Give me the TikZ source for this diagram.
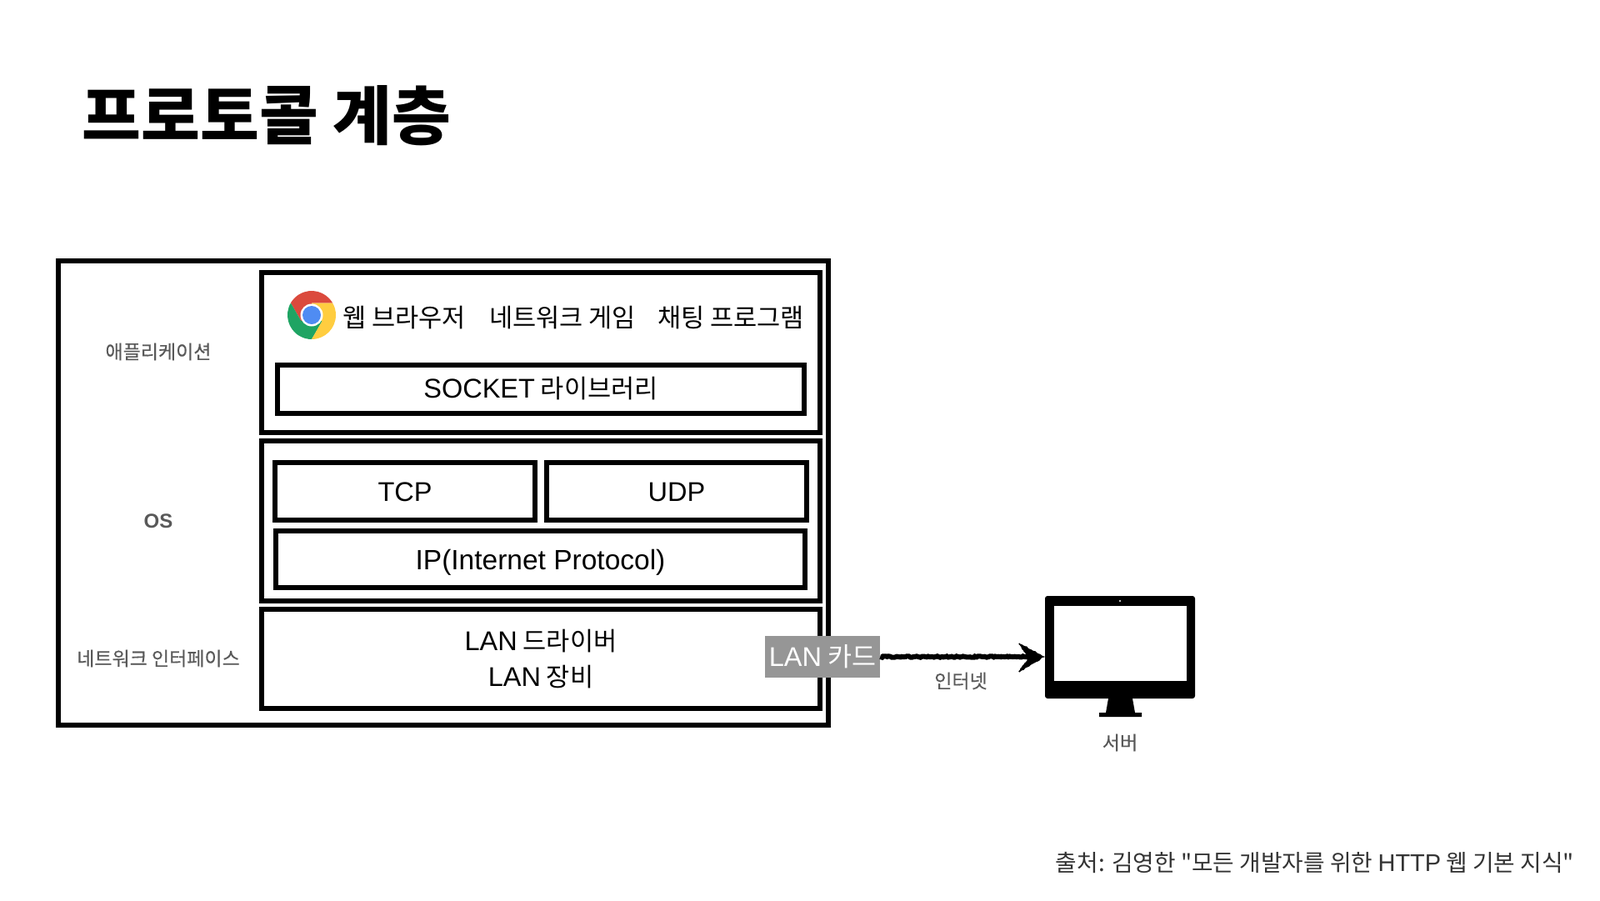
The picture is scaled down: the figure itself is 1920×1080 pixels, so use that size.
\documentclass[tikz,border=0pt]{standalone}
\usepackage{fontspec}
\setmainfont{Noto Sans CJK KR}
\newfontfamily\krn{Noto Sans CJK KR}
\newfontfamily\krm[FakeBold=0.35]{Noto Sans CJK KR}
\newfontfamily\lat{Liberation Sans}
\usetikzlibrary{arrows.meta,decorations.pathmorphing,calc}
\definecolor{labelgray}{HTML}{595959}
\definecolor{cardgray}{HTML}{969696}
\definecolor{chred}{HTML}{DB4A3D}
\definecolor{chgreen}{HTML}{1FA463}
\definecolor{chyellow}{HTML}{FFCD40}
\definecolor{chblue}{HTML}{4F8CF3}
\newcommand{\fs}[1]{\fontsize{#1}{#1}\selectfont}
\newcommand{\la}[1]{{\fs{32.5}\lat #1}}
\newcommand{\low}[1]{\raisebox{-12pt}[0pt][0pt]{#1}}
\tikzset{
  layer/.style={draw=black,line width=6pt,inner sep=0pt,fill=none,align=center,font=\fs{30.6},text=black},
  side/.style={inner sep=0pt,text=labelgray,font=\krm\fs{23},align=center},
  plain/.style={inner sep=0pt,text=black,font=\fs{30.6}},
  rough/.style={decorate,decoration={random steps,segment length=2pt,amplitude=0.7pt}},
}
\begin{document}
\begin{tikzpicture}[x=1pt,y=-1pt]
\useasboundingbox (0,0) rectangle (1920,1080);
\fill[white] (0,0) rectangle (1920,1080);
\node[inner sep=0pt,font=\bfseries\fs{77}] (title) at (320,139) {프로토콜 계층};
\node[layer,line width=6.5pt,minimum width=924pt,minimum height=557pt] (outer) at (532,591.5) {};
\node[layer,minimum width=670pt,minimum height=192pt] (app) at (649,423) {};
\node[layer,minimum width=632pt,minimum height=58pt] (socket) at (649,466.5) {\la{SOCKET} 라이브러리};
\node[layer,minimum width=670pt,minimum height=192pt] (os) at (649,625) {};
\node[layer,minimum width=312pt,minimum height=69pt] (tcp) at (486,589.5) {\low{\la{TCP}}};
\node[layer,minimum width=312pt,minimum height=69pt] (udp) at (812,589.5) {\low{\la{UDP}}};
\node[layer,minimum width=635pt,minimum height=68pt] (ip) at (648.5,671) {\low{{\fs{33.5}\lat IP(Internet Protocol)}}};
\node[layer,minimum width=670pt,minimum height=119pt] (lan) at (649,790.5) {\la{LAN} 드라이버\\[12pt]\la{LAN} 장비};
\node[side] (lapp) at (190,422) {애플리케이션};
\node[side] (los) at (190,625) {\lat\bfseries\fs{24}OS};
\node[side] (lnet) at (190,790) {네트워크 인터페이스};
\node[plain] (web) at (485,381) {웹 브라우저};
\node[plain] (game) at (675,381) {네트워크 게임};
\node[plain] (chat) at (877,381) {채팅 프로그램};
% chrome icon
\begin{scope}[shift={(374,378)},y=1pt]
  \coordinate (ch) at (0,0);
  \foreach \a/\c in {0/chred,120/chgreen,240/chyellow}{
    \fill[\c,rotate=\a] (30:29) arc[start angle=30,end angle=150,radius=29] -- (210:14.5) -- (0,0) -- (90:14.5) -- cycle;
  }
  \fill[white] (0,0) circle[radius=13.5];
  \fill[chblue] (0,0) circle[radius=11];
\end{scope}
\node[inner sep=0pt,fill=cardgray,text=white,font=\fs{31.5},minimum width=138pt,minimum height=50pt] (card) at (987,788) {\la{LAN} 카드};
% monitor
\node[fill=black,rounded corners=3pt,inner sep=0pt,minimum width=180pt,minimum height=123pt] (monitor) at (1344,776.5) {};
\node[fill=white,inner sep=0pt,minimum width=159pt,minimum height=90pt] (screen) at (1344.5,772) {};
\fill[white] (1344,721) circle[radius=1.2];
\fill[black] (1330,838) -- (1359,838) -- (1362,855) -- (1370,855) -- (1370,860) -- (1319,860) -- (1319,855) -- (1327,855) -- cycle;
% arrow
\coordinate (tip) at (card.east -| monitor.west);
\draw[line width=6pt,rough] (card.east) -- ($(tip)+(-16,0)$);
\draw[black,fill=black,line width=1.5pt,line join=miter,rough] ($(tip)+(-31,-16)$) -- ($(tip)+(-2,0)$) -- ($(tip)+(-31,18)$) -- ($(tip)+(-18,1)$) -- cycle;
\node[side] (inet) at (1153,817) {인터넷};
\node[side] (srv) at (1344,891) {서버};
\node[inner sep=0pt,text=black!80,font=\krn\fs{27.8}] (src) at (1578,1035) {출처: 김영한 "모든 개발자를 위한 {\fs{29}\lat HTTP} 웹 기본 지식"};
\end{tikzpicture}
\end{document}
